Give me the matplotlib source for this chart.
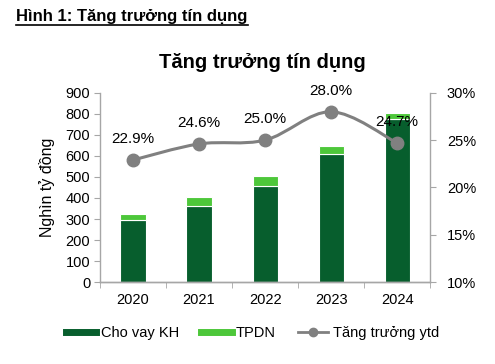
import matplotlib
matplotlib.use("Agg")
import matplotlib.pyplot as plt
import numpy as np
from matplotlib.path import Path
from matplotlib.patches import PathPatch
from matplotlib.lines import Line2D
from matplotlib.ticker import FuncFormatter

plt.rcParams["font.family"] = ["Liberation Sans", "DejaVu Sans"]

years = ["2020", "2021", "2022", "2023", "2024"]
cho_vay = [296, 363, 459, 608, 775]
tpdn = [28, 42, 46, 38, 30]
growth = [22.9, 24.6, 25.0, 28.0, 24.7]

dark = "#075E2D"
light = "#4DC73A"
grey = "#808080"

fig = plt.figure(figsize=(4.95, 3.64), dpi=100)
ax = fig.add_axes([0.202, 0.225, 0.667, 0.52])
ax2 = ax.twinx()

x = np.arange(len(years))
w = 0.38
ax.bar(x, cho_vay, w, color=dark, edgecolor="white", linewidth=0.8, zorder=2)
ax.bar(x, tpdn, w, bottom=cho_vay, color=light, edgecolor="white", linewidth=0.8, zorder=2)

ax.set_ylim(0, 900)
ax.set_yticks(range(0, 901, 100))
ax.set_xlim(-0.5, len(years) - 0.5)
ax.set_xticks(x)
ax.set_xticklabels(years)
ax.set_xticks(np.arange(-0.5, len(years)), minor=True)
ax.tick_params(axis="x", which="major", length=0, pad=8, labelsize=10.5)
ax.tick_params(axis="x", which="minor", length=4, color="#A6A6A6", direction="out")
ax.tick_params(axis="y", length=4, color="#A6A6A6", labelsize=10.5, pad=3)
ax.set_ylabel("Nghìn tỷ đồng", fontsize=11.5, labelpad=8)

ax2.set_ylim(10, 30)
ax2.set_yticks(range(10, 31, 5))
ax2.yaxis.set_major_formatter(FuncFormatter(lambda v, p: f"{v:.0f}%"))
ax2.tick_params(axis="y", length=4, color="#A6A6A6", labelsize=10.5, pad=8)

for a in (ax, ax2):
    for s in a.spines.values():
        s.set_visible(False)
    a.spines["left"].set_visible(a is ax)
    a.spines["right"].set_visible(a is ax2)
    a.spines["bottom"].set_visible(True)
    for s in ("left", "right", "bottom"):
        a.spines[s].set_color("#A6A6A6")
        a.spines[s].set_linewidth(1)

# smoothed line (cubic Bezier through the data points, Excel-like)
pts = np.column_stack([x, growth]).astype(float)
verts = [tuple(pts[0])]
codes = [Path.MOVETO]
t = 1 / 6
for i in range(len(pts) - 1):
    p0 = pts[i - 1] if i > 0 else pts[i]
    p1, p2 = pts[i], pts[i + 1]
    p3 = pts[i + 2] if i + 2 < len(pts) else pts[i + 1]
    c1 = p1 + (p2 - p0) * t
    c2 = p2 - (p3 - p1) * t
    verts += [tuple(c1), tuple(c2), tuple(p2)]
    codes += [Path.CURVE4] * 3
ax2.add_patch(PathPatch(Path(verts, codes), facecolor="none", edgecolor=grey, lw=2.2, zorder=3))
ax2.plot(x, growth, "o", color=grey, markersize=9, zorder=4)
for xi, g in zip(x, growth):
    ax2.annotate(f"{g:.1f}%", (xi, g), xytext=(0, 10), textcoords="offset points",
                 ha="center", va="bottom", fontsize=11, zorder=5)

fig.text(0.032, 0.942, "Hình 1: Tăng trưởng tín dụng", fontsize=12, fontweight="bold")
fig.add_artist(Line2D([0.032, 0.502], [0.93, 0.93], color="black", lw=1.2))
fig.text(0.53, 0.812, "Tăng trưởng tín dụng", fontsize=14.5, fontweight="bold", ha="center")

handles = [
    Line2D([], [], color=dark, lw=5),
    Line2D([], [], color=light, lw=5),
    Line2D([], [], color=grey, lw=2, marker="o", markersize=6),
]
fig.legend(handles, ["Cho vay KH", "TPDN", "Tăng trưởng ytd"], loc="center",
           bbox_to_anchor=(0.51, 0.085), ncol=3, frameon=False, fontsize=10.5,
           handlelength=2.1, handletextpad=0.3, columnspacing=1.5)

fig.savefig("out.png", dpi=100)
